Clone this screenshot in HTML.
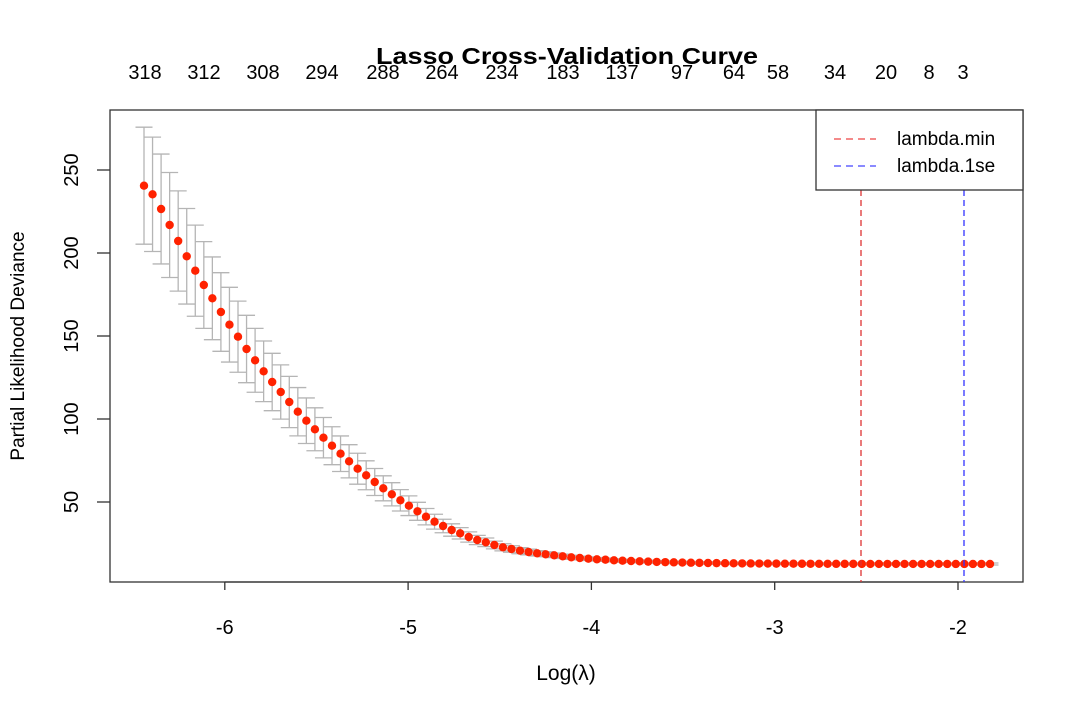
<!DOCTYPE html>
<html><head><meta charset="utf-8"><style>html,body{margin:0;padding:0;background:#fff}</style></head>
<body>
<svg id="s" width="1080" height="720" xmlns="http://www.w3.org/2000/svg" font-family="Liberation Sans, sans-serif">
<rect x="110" y="110" width="913" height="472" fill="none" stroke="#333" stroke-width="1.3"/>
<text x="567" y="64" text-anchor="middle" font-size="23" font-weight="bold" textLength="382" lengthAdjust="spacingAndGlyphs">Lasso Cross-Validation Curve</text>
<g font-size="20" text-anchor="middle">
<text x="145" y="79">318</text><text x="204" y="79">312</text><text x="263" y="79">308</text><text x="322" y="79">294</text>
<text x="383" y="79">288</text><text x="442" y="79">264</text><text x="502" y="79">234</text><text x="563" y="79">183</text>
<text x="622" y="79">137</text><text x="682" y="79">97</text><text x="734" y="79">64</text><text x="778" y="79">58</text>
<text x="835" y="79">34</text><text x="886" y="79">20</text><text x="929" y="79">8</text><text x="963" y="79">3</text>
</g>
<g id="ax" stroke="#333" stroke-width="1.3"></g>
<g id="lab" font-size="20"></g>
<text x="566" y="680" text-anchor="middle" font-size="21">Log(λ)</text>
<text transform="translate(24,346) rotate(-90)" text-anchor="middle" font-size="19">Partial Likelihood Deviance</text>
<g id="err" stroke="#b5b5b5" stroke-width="1.3"></g>
<g id="pts" fill="#ff2200"></g>
<line x1="861" y1="190" x2="861" y2="582" stroke="#d33" stroke-width="1.3" stroke-dasharray="6,4"/>
<line x1="964" y1="190" x2="964" y2="582" stroke="#33f" stroke-width="1.3" stroke-dasharray="6,4"/>
<rect x="816" y="110" width="207" height="80" fill="#fff" stroke="#333" stroke-width="1.3"/>
<line x1="834" y1="139" x2="876" y2="139" stroke="#e44" stroke-width="1.3" stroke-dasharray="7,5"/>
<line x1="834" y1="166" x2="876" y2="166" stroke="#44f" stroke-width="1.3" stroke-dasharray="7,5"/>
<text x="897" y="145" font-size="19">lambda.min</text>
<text x="897" y="172" font-size="19">lambda.1se</text>
</svg>
<script>
var NS="http://www.w3.org/2000/svg";
function el(p,t,a,txt){var e=document.createElementNS(NS,t);for(var k in a)e.setAttribute(k,a[k]);if(txt!==undefined)e.textContent=txt;document.getElementById(p).appendChild(e);}
function X(v){return 958+(v+2)*183.3;}
function Y(v){return 170+(250-v)*1.66;}
for(var t=-6;t<=-2;t++){el("ax","line",{x1:X(t),y1:582,x2:X(t),y2:590});el("lab","text",{x:X(t),y:634,"text-anchor":"middle"},String(t));}
el("ax","line",{x1:X(-6),y1:582,x2:X(-2),y2:582});
for(var v=50;v<=250;v+=50){el("ax","line",{x1:97,y1:Y(v),x2:110,y2:Y(v)});el("lab","text",{x:0,y:0,"text-anchor":"middle",transform:"translate(78,"+Y(v)+") rotate(-90)"},v);}
var ys=[185.7,194.3,209,225,241,256.3,270.7,285,298.3,312,324.7,336.7,349,360.3,371.3,382,392,402,411.7,420.7,429.3,437.7,445.7,453.7,461.3,468.7,475.3,482,
488.3,494.3,500.3,505.7,511.3,516.7,521.7,526,530,533.3,537,540,542.3,545,547.3,549,550.7,552,553.3,554.3,555.3,556.3,557.3,558,558.7,559.3,559.7,560.3,560.7,561,561.3];
for(var i=59;i<100;i++){ys.push(561.3+(564-561.3)*(1-Math.exp(-(i-58)/8)));}
for(var i=0;i<100;i++){var px=144+i*(990-144)/99;var y=ys[i];var h=0.152*(564-y)+1;
var y1=y-h,y2=y+h;el("err","line",{x1:px,y1:y1,x2:px,y2:y2});el("err","line",{x1:px-8.5,y1:y1,x2:px+8.5,y2:y1});el("err","line",{x1:px-8.5,y1:y2,x2:px+8.5,y2:y2});}
for(var i=0;i<100;i++){var px=144+i*(990-144)/99;el("pts","circle",{cx:px,cy:ys[i],r:4.2});}
</script>
</body></html>
